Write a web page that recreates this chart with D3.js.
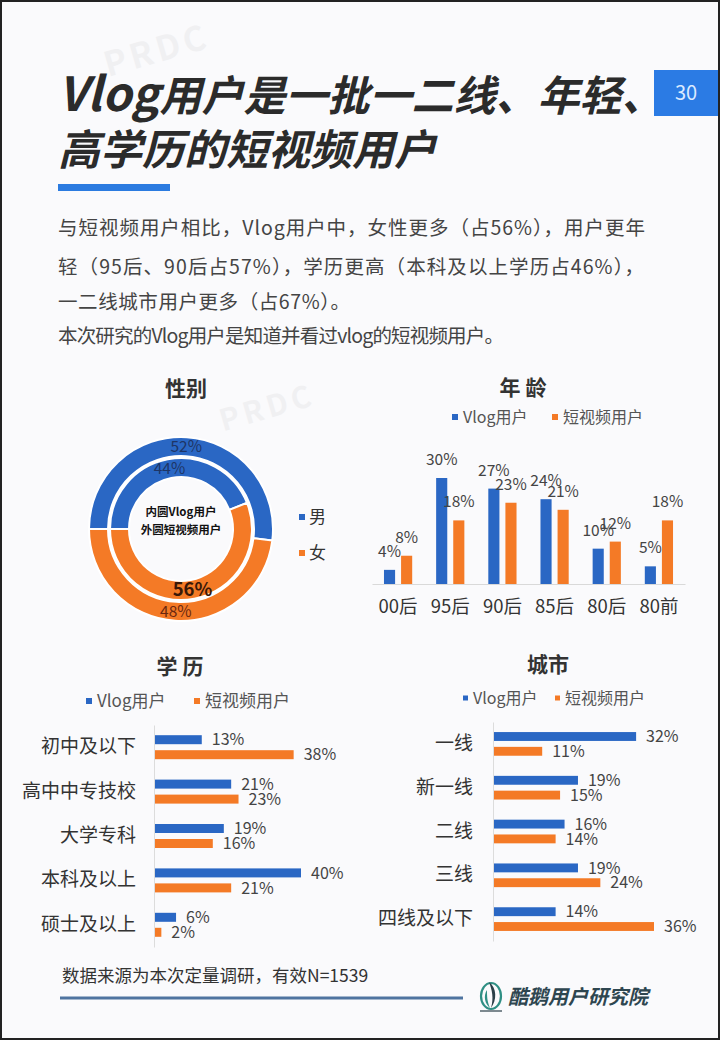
<!DOCTYPE html>
<html>
<head>
<meta charset="utf-8">
<script src="https://cdn.jsdelivr.net/npm/d3@7"></script>
<style>
  html, body { margin: 0; padding: 0; background: #fafafc; }
  svg { display: block; font-family: "Noto Sans CJK SC", "Noto Sans", sans-serif; }
</style>
</head>
<body>
<div id="chart"></div>
<script>
'use strict';

// ---- data ----
var seriesNames = ['Vlog用户', '短视频用户'];
var seriesKeys = ['vlog', 'short'];

var genderCats = ['男', '女'];
var genderVlog = [44, 56];    // inner ring
var genderShort = [52, 48];   // outer ring

var ageCats = ['00后', '95后', '90后', '85后', '80后', '80前'];
var ageVlog = [4, 30, 27, 24, 10, 5];
var ageShort = [8, 18, 23, 21, 12, 18];

var eduCats = ['初中及以下', '高中中专技校', '大学专科', '本科及以上', '硕士及以上'];
var eduVlog = [13, 21, 19, 40, 6];
var eduShort = [38, 23, 16, 21, 2];

var cityCats = ['一线', '新一线', '二线', '三线', '四线及以下'];
var cityVlog = [32, 19, 16, 19, 14];
var cityShort = [11, 15, 14, 24, 36];

var introLines = [
    '与短视频用户相比，Vlog用户中，女性更多（占56%），用户更年',
    '轻（95后、90后占57%），学历更高（本科及以上学历占46%），',
    '一二线城市用户更多（占67%）。',
    '本次研究的Vlog用户是知道并看过vlog的短视频用户。'
];

var BLUE = '#2a67c4',
    ORANGE = '#f47a26',
    colors = { vlog: BLUE, short: ORANGE };

var width = 720,
    height = 1040;

var svg = d3.select('#chart')
    .append('svg')
    .attr('width', width)
    .attr('height', height);

svg.append('rect')
    .attr('width', width)
    .attr('height', height)
    .attr('fill', '#fafafc');

// faint watermarks, only where they clear the content
var marks = [['PRDC', 160, 62, 34], ['PRDC', 270, 418, 30]];
svg.append('g')
    .selectAll('text')
    .data(marks)
    .enter()
    .append('text')
    .attr('transform', function(d) { return 'translate(' + d[1] + ',' + d[2] + ') rotate(-16)'; })
    .attr('text-anchor', 'middle')
    .attr('font-size', function(d) { return d[3]; })
    .attr('font-weight', 700)
    .attr('letter-spacing', 4)
    .attr('fill', '#000')
    .attr('opacity', 0.035)
    .text(function(d) { return d[0]; });

// ---- header ----
var title = svg.append('g')
    .attr('fill', '#2b2b2b')
    .attr('font-size', 42)
    .attr('font-weight', 700)
    .attr('font-style', 'italic');
var t1 = title.append('text').attr('x', 58).attr('y', 111);
t1.append('tspan').attr('font-size', 47).text('Vlog');
t1.append('tspan').text('用户是一批一二线、年轻、');
title.append('text').attr('x', 58).attr('y', 165).text('高学历的短视频用户');

svg.append('rect')
    .attr('x', 58).attr('y', 184)
    .attr('width', 112).attr('height', 7)
    .attr('fill', '#2b7be0');

svg.append('rect')
    .attr('x', 654).attr('y', 70)
    .attr('width', 66).attr('height', 46)
    .attr('fill', '#2b7be4');
svg.append('text')
    .attr('x', 686).attr('y', 100)
    .attr('text-anchor', 'middle')
    .attr('font-size', 20)
    .attr('fill', '#dceaff')
    .text('30');

var lineY = [235, 274, 309, 343],
    lineW = [587, 586, 292, 446];
svg.append('g')
    .selectAll('text')
    .data(introLines)
    .enter()
    .append('text')
    .attr('x', 58)
    .attr('y', function(d, i) { return lineY[i]; })
    .attr('textLength', function(d, i) { return lineW[i]; })
    .attr('lengthAdjust', 'spacing')
    .attr('font-size', 19.5)
    .attr('fill', '#444')
    .text(function(d) { return d; });

// ---- helpers ----
function sectionTitle(txt, x, y) {
    svg.append('text')
        .attr('x', x).attr('y', y)
        .attr('text-anchor', 'middle')
        .attr('font-size', 21)
        .attr('font-weight', 700)
        .attr('fill', '#333')
        .text(txt);
}

function legend(items, xs, y, size, fs) {
    var g = svg.append('g');
    items.forEach(function(it, i) {
        g.append('rect')
            .attr('x', xs[i]).attr('y', y - size / 2)
            .attr('width', size).attr('height', size)
            .attr('fill', it.color);
        g.append('text')
            .attr('x', xs[i] + size + 5).attr('y', y)
            .attr('dy', '0.35em')
            .attr('font-size', fs)
            .attr('fill', '#555')
            .text(it.name);
    });
}

var seriesLegend = seriesNames.map(function(n, i) { return { name: n, color: colors[seriesKeys[i]] }; });

// ---- 性别 donut ----
sectionTitle('性别', 186, 396);

var cx = 181, cy = 529;
var pie = d3.pie().sort(null).startAngle(-Math.PI / 2).endAngle(Math.PI * 1.5);
var rings = [
    { values: genderShort, inner: 73, outer: 92 },
    { values: genderVlog, inner: 52, outer: 71 }
];
var donut = svg.append('g').attr('transform', 'translate(' + cx + ',' + cy + ')');

rings.forEach(function(ring, ri) {
    var arc = d3.arc().innerRadius(ring.inner).outerRadius(ring.outer);
    var arcs = pie(ring.values);
    donut.append('g')
        .selectAll('path')
        .data(arcs)
        .enter()
        .append('path')
        .attr('d', arc)
        .attr('fill', function(d, i) { return i === 0 ? BLUE : ORANGE; })
        .attr('stroke', '#fff')
        .attr('stroke-width', 2);

    donut.append('g')
        .selectAll('text')
        .data(arcs)
        .enter()
        .append('text')
        .attr('transform', function(d) { return 'translate(' + arc.centroid(d) + ')'; })
        .attr('text-anchor', 'middle')
        .attr('dy', '0.36em')
        .attr('font-size', function(d, i) { return (ri === 1 && i === 1) ? 18.5 : 15.5; })
        .attr('font-weight', function(d, i) { return (ri === 1 && i === 1) ? 700 : 400; })
        .attr('fill', function(d, i) {
            if (ri === 1 && i === 1) return '#3a1808';
            return i === 0 ? '#1e3566' : '#6a2810';
        })
        .text(function(d) { return d.data + '%'; });
});

donut.append('text')
    .attr('y', -13)
    .attr('text-anchor', 'middle')
    .attr('font-size', 11.5)
    .attr('font-weight', 700)
    .attr('fill', '#111')
    .text('内圆Vlog用户');
donut.append('text')
    .attr('y', 5)
    .attr('text-anchor', 'middle')
    .attr('font-size', 11.5)
    .attr('font-weight', 700)
    .attr('fill', '#111')
    .text('外圆短视频用户');

var gLeg = svg.append('g');
genderCats.forEach(function(c, i) {
    var yy = 517 + i * 36;
    gLeg.append('rect')
        .attr('x', 299).attr('y', yy - 3)
        .attr('width', 6).attr('height', 6)
        .attr('fill', i === 0 ? BLUE : ORANGE);
    gLeg.append('text')
        .attr('x', 309).attr('y', yy)
        .attr('dy', '0.36em')
        .attr('font-size', 17)
        .attr('fill', '#333')
        .text(c);
});

// ---- 年龄 column chart ----
sectionTitle('年 龄', 523, 395);
legend(seriesLegend, [452, 552], 417, 6, 16);

var ageRows = ageCats.map(function(c, i) {
    return { cat: c, values: [{ key: 'vlog', v: ageVlog[i] }, { key: 'short', v: ageShort[i] }] };
});
var x0 = d3.scaleBand().domain(ageCats).range([372, 685]);
var x1 = d3.scaleBand().domain(seriesKeys).range([0, x0.bandwidth()]).paddingInner(0.35).paddingOuter(0.7);
var yAge = d3.scaleLinear().domain([0, 30]).range([584, 478]);

var ageG = svg.append('g')
    .selectAll('g')
    .data(ageRows)
    .enter()
    .append('g')
    .attr('transform', function(d) { return 'translate(' + x0(d.cat) + ',0)'; });

ageG.selectAll('rect')
    .data(function(d) { return d.values; })
    .enter()
    .append('rect')
    .attr('x', function(d) { return x1(d.key); })
    .attr('y', function(d) { return yAge(d.v); })
    .attr('width', x1.bandwidth())
    .attr('height', function(d) { return yAge(0) - yAge(d.v); })
    .attr('fill', function(d) { return colors[d.key]; });

ageG.selectAll('text')
    .data(function(d) { return d.values; })
    .enter()
    .append('text')
    .attr('x', function(d) { return x1(d.key) + x1.bandwidth() / 2; })
    .attr('y', function(d) { return yAge(d.v) - 13; })
    .attr('text-anchor', 'middle')
    .attr('font-size', 15.5)
    .attr('fill', '#444')
    .text(function(d) { return d.v + '%'; });

var ageAxis = svg.append('g')
    .attr('transform', 'translate(0,' + yAge(0) + ')')
    .call(d3.axisBottom(x0).tickSize(0).tickPadding(16));
ageAxis.select('.domain').attr('stroke', '#d9d9d9');
ageAxis.selectAll('text')
    .attr('font-size', 18.5)
    .attr('fill', '#333')
    .attr('font-family', '"Noto Sans CJK SC", sans-serif');

// ---- horizontal bar charts ----
function drawHBar(cfg) {
    var rows = cfg.cats.map(function(c, i) {
        return { cat: c, values: [{ key: 'vlog', v: cfg.vlog[i] }, { key: 'short', v: cfg.short[i] }] };
    });
    var y0 = d3.scaleBand().domain(cfg.cats).range(cfg.yRange);
    var y1 = d3.scaleBand().domain(seriesKeys).range([0, y0.bandwidth()]).paddingInner(0.4).paddingOuter(0.68);
    var x = d3.scaleLinear().domain([0, cfg.max]).range(cfg.xRange);

    var rowG = svg.append('g')
        .selectAll('g')
        .data(rows)
        .enter()
        .append('g')
        .attr('transform', function(d) { return 'translate(0,' + y0(d.cat) + ')'; });

    rowG.selectAll('rect')
        .data(function(d) { return d.values; })
        .enter()
        .append('rect')
        .attr('x', x(0))
        .attr('y', function(d) { return y1(d.key); })
        .attr('width', function(d) { return x(d.v) - x(0); })
        .attr('height', y1.bandwidth())
        .attr('fill', function(d) { return colors[d.key]; });

    rowG.selectAll('text')
        .data(function(d) { return d.values; })
        .enter()
        .append('text')
        .attr('x', function(d) { return x(d.v) + 10; })
        .attr('y', function(d) { return y1(d.key) + y1.bandwidth() / 2; })
        .attr('dy', '0.36em')
        .attr('font-size', 16)
        .attr('fill', '#444')
        .text(function(d) { return d.v + '%'; });

    var ax = svg.append('g')
        .attr('transform', 'translate(' + x(0) + ',0)')
        .call(d3.axisLeft(y0).tickSize(0).tickPadding(cfg.pad));
    ax.select('.domain').attr('stroke', '#dcdcdc');
    ax.selectAll('text')
        .attr('font-size', 19)
        .attr('fill', '#333')
        .attr('font-family', '"Noto Sans CJK SC", sans-serif');
}

sectionTitle('学 历', 180, 674);
legend(seriesLegend, [86, 194], 701, 6, 17);
drawHBar({ cats: eduCats, vlog: eduVlog, short: eduShort, max: 40, xRange: [154, 301], yRange: [725, 947], pad: 18 });

sectionTitle('城市', 548, 672);
legend(seriesLegend, [463, 555], 698, 5, 16);
drawHBar({ cats: cityCats, vlog: cityVlog, short: cityShort, max: 36, xRange: [493, 654], yRange: [722, 941], pad: 20 });

// ---- footer ----
svg.append('text')
    .attr('x', 62).attr('y', 982)
    .attr('font-size', 17.5)
    .attr('fill', '#333')
    .text('数据来源为本次定量调研，有效N=1539');
svg.append('line')
    .attr('x1', 60).attr('x2', 463)
    .attr('y1', 998).attr('y2', 998)
    .attr('stroke', '#4f74a0')
    .attr('stroke-width', 3);

var logo = svg.append('g').attr('transform', 'translate(491,996)');
logo.append('ellipse')
    .attr('rx', 10).attr('ry', 13)
    .attr('fill', 'none')
    .attr('stroke', '#2f8f84')
    .attr('stroke-width', 2.2);
logo.append('path')
    .attr('d', 'M -2 -14 C 6 -8, 6 4, 0 12 C 3 2, 1 -6, -2 -14 Z')
    .attr('fill', '#2b3f48');
logo.append('path')
    .attr('d', 'M -4 -6 C -8 0, -6 8, -1 12 C -4 5, -4 0, -4 -6 Z')
    .attr('fill', '#2f8f84');
logo.append('line')
    .attr('x1', -11).attr('x2', 11)
    .attr('y1', 15).attr('y2', 15)
    .attr('stroke', '#2b3f48')
    .attr('stroke-width', 1.2);

svg.append('text')
    .attr('x', 508).attr('y', 1004)
    .attr('font-size', 20)
    .attr('font-weight', 700)
    .attr('font-style', 'italic')
    .attr('fill', '#2e4650')
    .text('酷鹅用户研究院');

// page frame
svg.append('rect')
    .attr('x', 1).attr('y', 1)
    .attr('width', width - 2).attr('height', height - 2)
    .attr('fill', 'none')
    .attr('stroke', '#222')
    .attr('stroke-width', 2);
</script>
</body>
</html>
